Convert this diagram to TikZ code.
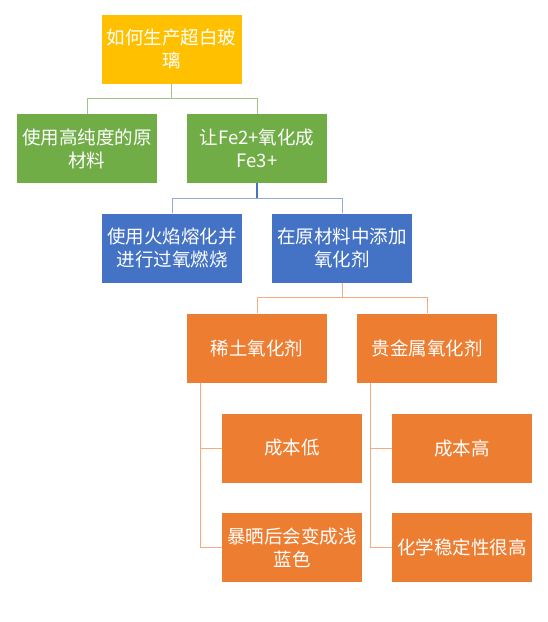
\documentclass[tikz,border=0pt]{standalone}
\usepackage{fontspec}
\newfontfamily\cjk{Noto Sans CJK SC}
\definecolor{gold}{HTML}{FFC000}
\definecolor{leaf}{HTML}{70AD47}
\definecolor{sea}{HTML}{4472C4}
\definecolor{rust}{HTML}{ED7D31}
\definecolor{leaflt}{HTML}{9CC97F}
\definecolor{sealt}{HTML}{8FAADC}
\definecolor{rustlt}{HTML}{F2AC7E}
\begin{document}
\begin{tikzpicture}[x=1pt,y=-1pt,
  box/.style={rectangle,minimum width=140pt,minimum height=69pt,inner sep=0pt,
    align=center,text=white,font=\cjk\fontsize{18.5}{23}\selectfont},
  link/.style={line width=0.8pt}]
\useasboundingbox (0,0) rectangle (547,622);

\node[box,fill=gold] (root) at (171.5,49) {如何生产超白玻\\璃};

\node[box,fill=leaf] (pure) at (87,148.5) {使用高纯度的原\\材料};
\node[box,fill=leaf] (oxid) at (257,148.5) {让Fe2+氧化成\\Fe3+};

\node[box,fill=sea] (flame) at (172,248) {使用火焰熔化并\\进行过氧燃烧};
\node[box,fill=sea] (agent) at (342,248) {在原材料中添加\\氧化剂};

\node[box,fill=rust] (earth) at (257,348) {稀土氧化剂};
\node[box,fill=rust] (noble) at (427,348) {贵金属氧化剂};

\node[box,fill=rust] (low) at (292,448) {成本低};
\node[box,fill=rust] (blue) at (292,547.5) {暴晒后会变成浅\\蓝色};
\node[box,fill=rust] (high) at (462,448) {成本高};
\node[box,fill=rust] (stable) at (462,547.5) {化学稳定性很高};

% tree links
\draw[link,leaflt] (root.south) -- ++(0,15) -| (pure.north);
\draw[link,leaflt] (root.south) -- ++(0,15) -| (oxid.north);

\draw[link,sealt] (oxid.south) ++(0,15) -| (flame.north);
\draw[link,sealt] (oxid.south) ++(0,15) -| (agent.north);
\draw[line width=1.6pt,sea] (oxid.south) -- ++(0,15);

\draw[link,rustlt] (agent.south) -- ++(0,15) -| (earth.north);
\draw[link,rustlt] (agent.south) -- ++(0,15) -| (noble.north);

\draw[link,rustlt] ([xshift=14pt]earth.south west) |- (low.west);
\draw[link,rustlt] ([xshift=14pt]earth.south west) |- (blue.west);
\draw[link,rustlt] ([xshift=14pt]noble.south west) |- (high.west);
\draw[link,rustlt] ([xshift=14pt]noble.south west) |- (stable.west);
\end{tikzpicture}
\end{document}
